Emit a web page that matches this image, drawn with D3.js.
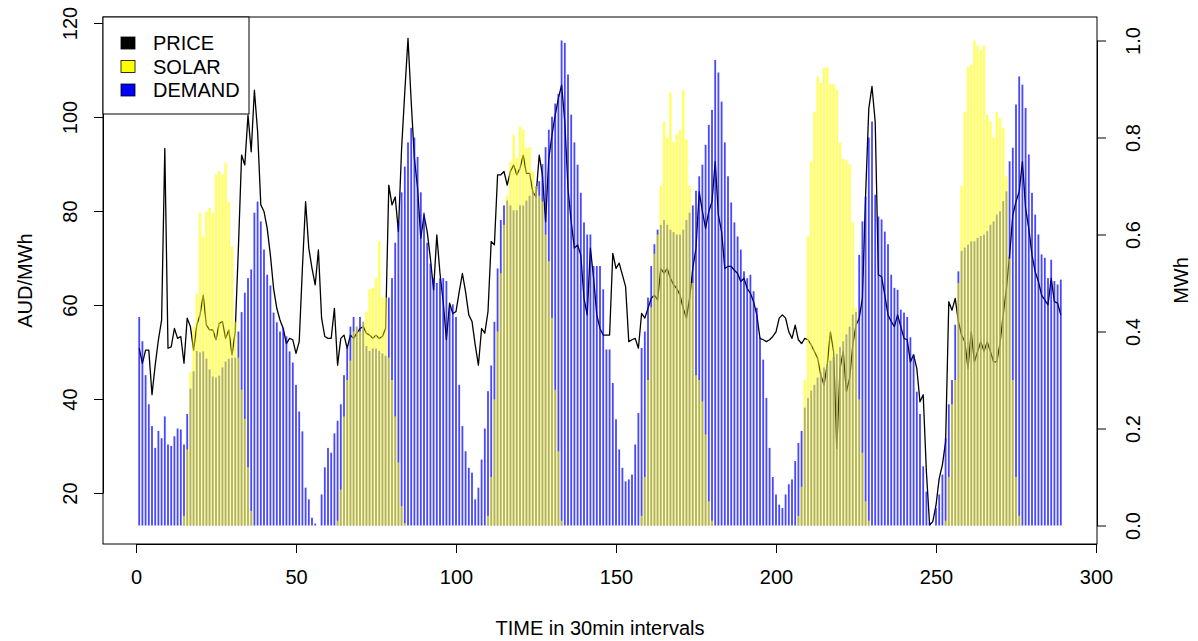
<!DOCTYPE html>
<html>
<head>
<meta charset="utf-8">
<script src="https://cdn.jsdelivr.net/npm/d3@7"></script>
<style>
  body { margin: 0; background: #fff; }
  text { font-family: "Liberation Sans", Arial, Helvetica, sans-serif; }
</style>
</head>
<body>
<svg id="chart" width="1198" height="641"></svg>
<script>
// Half-hourly spot price (AUD/MWh), interval 1..289
const price = [
  50.8, 47.6, 50.4, 50.4, 40.9, 47.2, 52.6, 56.8, 93.3, 50.8, 51.1, 55.0, 52.9, 53.3, 47.6, 57.2,
  55.4, 50.4, 55.7, 57.9, 62.1, 55.7, 54.7, 54.7, 52.6, 56.1, 56.5, 52.9, 54.7, 49.4, 54.3,
  72.1, 91.9, 89.8, 100.4, 92.6, 105.7, 96.9, 81.3, 79.9, 76.3, 70.6, 63.5, 59.3, 56.8, 55.0,
  51.8, 52.9, 52.6, 49.7, 52.2, 67.8, 82.0, 72.1, 67.8, 64.3, 71.7,
  57.2, 53.3, 52.9, 52.9, 59.3, 47.2, 52.9, 53.6, 50.8, 53.6, 52.9, 54.0, 55.0, 55.4, 54.0,
  53.6, 52.9, 53.6, 52.9, 53.3, 55.0,
  85.5, 81.3, 83.0, 75.6, 93.3, 105.4, 116.7, 103.3, 91.2, 84.8, 74.2, 79.1, 75.6, 69.9, 63.2,
  74.9, 66.7, 60.7, 52.6, 60.4, 58.2, 58.6, 62.8, 66.7, 62.8, 57.9, 56.5, 51.5, 47.2, 55.0,
  54.0, 58.6, 73.5, 72.8,
  87.7, 87.7, 88.4, 85.5, 88.4, 89.8, 87.7, 89.1, 91.9, 88.0, 88.0, 84.1, 83.0, 91.9, 87.7,
  77.7, 91.2, 96.2, 100.4, 104.0, 106.8, 99.0, 84.8, 77.7, 72.1, 72.8, 70.6, 61.4, 57.9, 72.1,
  65.7, 57.9,
  55.0, 53.6, 53.6, 53.6, 71.0, 67.8, 68.9, 66.4, 63.9, 52.2, 52.6, 52.9, 50.8, 58.2, 57.2,
  59.3, 61.4, 62.1, 61.1, 67.8, 66.7, 67.8, 65.7, 64.3, 63.5, 62.1, 59.3, 57.2, 61.4, 67.8,
  72.1, 84.1, 79.9, 76.3, 79.9, 82.0, 90.5, 79.1, 75.6, 67.8, 68.2, 68.2, 67.4, 66.7, 65.0,
  65.7, 63.5, 62.5, 60.7, 57.9, 52.9, 52.6, 52.2, 52.6, 53.3, 54.3, 57.2, 57.9, 57.2, 54.3,
  52.9, 55.7, 52.6, 51.8, 52.9, 52.6, 51.5, 50.1, 48.7, 45.1, 43.0, 47.2, 54.3, 50.1, 29.5,
  46.5, 50.1, 41.6, 44.4, 51.5, 55.7, 57.2, 61.4, 83.4, 101.8, 106.5, 99.0, 66.4, 66.0, 62.1,
  57.9, 56.5, 55.4, 57.9, 55.4, 52.9, 52.6, 47.9, 49.4, 46.5, 39.4, 40.9, 24.5, 13.2, 13.9,
  17.4, 23.1, 26.0, 30.9, 60.7, 58.9, 61.4, 56.5, 53.6, 52.2, 46.5, 54.3, 47.9, 50.1, 52.2,
  50.1, 52.2, 50.1, 47.9, 47.9, 51.8, 57.9, 63.5, 70.6, 79.1, 82.0, 84.1, 90.5, 80.6, 76.3,
  70.6, 67.1, 65.0, 62.1, 61.1, 60.0, 65.7, 60.7, 60.4, 57.9
];

// Rooftop solar generation (MWh), interval 1..289
const solar = [
  0, 0, 0, 0, 0, 0, 0, 0, 0, 0, 0, 0, 0, 0,
  0.02, 0.157, 0.317, 0.41, 0.478, 0.645, 0.596, 0.647, 0.655, 0.645, 0.724, 0.73, 0.724,
  0.748, 0.668, 0.575, 0.42, 0.346, 0.28, 0.22, 0.12, 0.03,
  0, 0, 0, 0, 0, 0, 0, 0, 0, 0, 0, 0, 0, 0, 0, 0, 0, 0, 0, 0, 0, 0, 0, 0, 0, 0,
  0.01, 0.074, 0.225, 0.30, 0.34, 0.40, 0.41, 0.40, 0.42, 0.44, 0.487, 0.49, 0.51, 0.586,
  0.47, 0.47, 0.346, 0.30, 0.225, 0.13, 0.04, 0.005,
  0, 0, 0, 0, 0, 0, 0, 0, 0, 0, 0, 0, 0, 0, 0, 0, 0, 0, 0, 0, 0, 0, 0, 0, 0,
  0.02, 0.10, 0.26, 0.40, 0.52, 0.62, 0.68, 0.75, 0.806, 0.758, 0.823, 0.816, 0.779, 0.78,
  0.73, 0.70, 0.68, 0.668, 0.60, 0.545, 0.428, 0.28, 0.153, 0.01,
  0, 0, 0, 0, 0, 0, 0, 0, 0, 0, 0, 0, 0, 0, 0, 0, 0, 0, 0, 0, 0, 0, 0,
  0.0, 0.02, 0.10, 0.30, 0.45, 0.56, 0.60, 0.70, 0.833, 0.80, 0.893, 0.79, 0.806, 0.816,
  0.897, 0.796, 0.70, 0.50, 0.31, 0.30, 0.256, 0.188, 0.05, 0.01,
  0, 0, 0, 0, 0, 0, 0, 0, 0, 0, 0, 0, 0, 0, 0, 0, 0, 0, 0, 0, 0, 0, 0, 0, 0, 0,
  0.02, 0.08, 0.30, 0.596, 0.75, 0.853, 0.926, 0.913, 0.944, 0.945, 0.91, 0.91, 0.899, 0.79,
  0.756, 0.753, 0.745, 0.625, 0.449, 0.26, 0.15, 0.05, 0.01,
  0, 0, 0, 0, 0, 0, 0, 0, 0, 0, 0, 0, 0, 0, 0, 0, 0, 0, 0, 0, 0, 0, 0,
  0.01, 0.10, 0.25, 0.30, 0.50, 0.70, 0.853, 0.946, 0.95, 1.0, 0.99, 0.98, 0.99, 0.847,
  0.833, 0.80, 0.853, 0.84, 0.82, 0.72, 0.55, 0.30, 0.10, 0.02,
  0, 0, 0, 0, 0, 0, 0, 0, 0, 0, 0, 0, 0
];

// Household demand (MWh), interval 1..289
const demand = [
  0.43, 0.38, 0.31, 0.25, 0.205, 0.16, 0.195, 0.18, 0.225, 0.167, 0.164, 0.184, 0.20, 0.198,
  0.167, 0.23,
  0.282, 0.318, 0.36, 0.357, 0.359, 0.344, 0.322, 0.307, 0.305, 0.309, 0.326, 0.338, 0.344,
  0.346, 0.346,
  0.40, 0.44, 0.48, 0.51, 0.528, 0.645, 0.668, 0.627, 0.569, 0.517, 0.495, 0.439, 0.419, 0.40,
  0.408, 0.39,
  0.359, 0.336, 0.29, 0.235, 0.194, 0.078, 0.054, 0.016, 0.004, 0.0,
  0.064, 0.12, 0.16, 0.15, 0.19, 0.216, 0.25, 0.31, 0.367, 0.41,
  0.43, 0.41, 0.43, 0.42, 0.37, 0.36, 0.365, 0.365, 0.36, 0.355, 0.35,
  0.47, 0.51, 0.583, 0.625, 0.687, 0.74, 0.79, 0.82, 0.80, 0.76, 0.687, 0.645, 0.583, 0.54,
  0.51, 0.50, 0.51, 0.51, 0.504, 0.449, 0.456, 0.43,
  0.29, 0.205, 0.153, 0.119, 0.109, 0.054, 0.078, 0.136, 0.20, 0.277, 0.33, 0.42, 0.53, 0.63,
  0.66,
  0.67, 0.66, 0.65, 0.65, 0.66, 0.66, 0.67, 0.68, 0.69, 0.70,
  0.71, 0.745, 0.78, 0.816, 0.843, 0.87, 0.89, 1.0, 0.995, 0.93, 0.847, 0.79, 0.744, 0.686,
  0.625, 0.60,
  0.60, 0.535, 0.535, 0.535, 0.487, 0.363, 0.363, 0.294, 0.219, 0.157, 0.119, 0.091, 0.095,
  0.105, 0.167, 0.232, 0.366,
  0.40, 0.47, 0.535, 0.58, 0.61, 0.62, 0.63, 0.62, 0.61, 0.605, 0.60, 0.60, 0.61, 0.63, 0.645,
  0.66, 0.69, 0.72, 0.744, 0.785, 0.826, 0.857,
  0.96, 0.934, 0.874, 0.79, 0.72, 0.666, 0.625, 0.596, 0.569, 0.524, 0.51, 0.517, 0.483,
  0.449, 0.388, 0.342, 0.263, 0.16, 0.10, 0.064, 0.043, 0.036, 0.064, 0.085, 0.095, 0.133,
  0.17, 0.195,
  0.243, 0.263, 0.278, 0.29, 0.305, 0.316, 0.326, 0.333, 0.34, 0.347, 0.354, 0.368, 0.38,
  0.394, 0.41, 0.435, 0.44,
  0.558, 0.627, 0.678, 0.80, 0.833, 0.682, 0.637, 0.631, 0.606, 0.58, 0.517, 0.49, 0.486,
  0.445, 0.439, 0.43, 0.388, 0.353, 0.276, 0.23, 0.122, 0.07, 0.006,
  0.0, 0.036, 0.064, 0.105, 0.18, 0.25, 0.30, 0.414, 0.524,
  0.566, 0.573, 0.579, 0.586, 0.586, 0.593, 0.597, 0.60, 0.607, 0.62, 0.627, 0.641, 0.648,
  0.669, 0.689, 0.751, 0.779, 0.868, 0.926, 0.909, 0.861, 0.765, 0.686, 0.641, 0.60, 0.559,
  0.552, 0.51, 0.548, 0.504, 0.497, 0.507
];

const xTicks = [0, 50, 100, 150, 200, 250, 300];
const priceTicks = [20, 40, 60, 80, 100, 120];
const mwhTicks = [0, 0.2, 0.4, 0.6, 0.8, 1.0];
const legendLabels = ["PRICE", "SOLAR", "DEMAND"];
const legendColors = ["#000000", "#ffff00", "#0000ff"];

const svg = d3.select("#chart");
const box = { left: 103, right: 1097, top: 17, bottom: 544 };
const FONT = 20;

const x = d3.scaleLinear().domain([0, 300]).range([136, 1096]);
const yPrice = d3.scaleLinear().domain([20, 120]).range([493, 23]);
const yMwh = d3.scaleLinear().domain([0, 1]).range([525.5, 40.5]);

// price line underneath the translucent bars
const line = d3.line().x((d, i) => x(i + 1)).y(d => yPrice(d));
svg.append("path")
  .datum(price)
  .attr("d", line)
  .attr("fill", "none")
  .attr("stroke", "#000")
  .attr("stroke-width", 1.3)
  .attr("stroke-linejoin", "round");

// demand bars
svg.append("g").selectAll("rect")
  .data(demand)
  .join("rect")
  .attr("x", (d, i) => x(i + 1) - 0.9)
  .attr("width", 1.8)
  .attr("y", d => yMwh(d))
  .attr("height", d => yMwh(0) - yMwh(d))
  .attr("fill", "#0000ff")
  .attr("fill-opacity", 0.72);

// solar bars on top
svg.append("g").selectAll("rect")
  .data(solar)
  .join("rect")
  .attr("x", (d, i) => x(i + 1) - 1.3)
  .attr("width", 2.6)
  .attr("y", d => yMwh(d))
  .attr("height", d => yMwh(0) - yMwh(d))
  .attr("fill", "#ffff00")
  .attr("fill-opacity", 0.58);

// plot frame
svg.append("rect")
  .attr("x", box.left).attr("y", box.top)
  .attr("width", box.right - box.left).attr("height", box.bottom - box.top)
  .attr("fill", "none").attr("stroke", "#000").attr("stroke-width", 1);

function styleAxis(g) {
  g.selectAll("path.domain").attr("stroke", "#000").attr("stroke-width", 1);
  g.selectAll(".tick line").attr("stroke", "#000").attr("stroke-width", 1);
  g.selectAll("text").attr("font-size", FONT).attr("fill", "#000")
    .style("font-family", '"Liberation Sans", Arial, sans-serif');
}

// bottom axis
const gx = svg.append("g")
  .attr("transform", `translate(0,${box.bottom})`)
  .call(d3.axisBottom(x).tickValues(xTicks).tickSize(9).tickSizeOuter(0).tickFormat(d3.format("d")));
styleAxis(gx);
gx.selectAll("text").attr("y", 40).attr("dy", null);

// left axis (price)
const gl = svg.append("g")
  .attr("transform", `translate(${box.left},0)`)
  .call(d3.axisLeft(yPrice).tickValues(priceTicks).tickSize(9).tickSizeOuter(0).tickFormat(d3.format("d")));
styleAxis(gl);
gl.selectAll("text")
  .attr("x", null).attr("dy", null)
  .attr("text-anchor", "middle")
  .attr("transform", "translate(-26,0) rotate(-90)");

// right axis (energy)
const gr = svg.append("g")
  .attr("transform", `translate(${box.right},0)`)
  .call(d3.axisRight(yMwh).tickValues(mwhTicks).tickSize(9).tickSizeOuter(0).tickFormat(d3.format(".1f")));
styleAxis(gr);
gr.selectAll("text")
  .attr("x", null).attr("dy", null)
  .attr("text-anchor", "middle")
  .attr("transform", "translate(43,0) rotate(-90)");

// axis titles
svg.append("text")
  .attr("x", (box.left + box.right) / 2).attr("y", 635)
  .attr("text-anchor", "middle").attr("font-size", FONT)
  .text("TIME in 30min intervals");
svg.append("text")
  .attr("transform", `translate(32,${(box.top + box.bottom) / 2}) rotate(-90)`)
  .attr("text-anchor", "middle").attr("font-size", FONT)
  .text("AUD/MWh");
svg.append("text")
  .attr("transform", `translate(1188,${(box.top + box.bottom) / 2}) rotate(-90)`)
  .attr("text-anchor", "middle").attr("font-size", FONT)
  .text("MWh");

// legend
const lg = svg.append("g");
lg.append("rect")
  .attr("x", box.left).attr("y", box.top)
  .attr("width", 146).attr("height", 97)
  .attr("fill", "#fff").attr("stroke", "#000").attr("stroke-width", 1);
const rowY = d3.scalePoint().domain(legendLabels).range([43, 90]);
lg.selectAll("rect.key")
  .data(legendLabels)
  .join("rect")
  .attr("class", "key")
  .attr("x", 121).attr("y", d => rowY(d) - 6)
  .attr("width", 14).attr("height", 12)
  .attr("fill", (d, i) => legendColors[i])
  .attr("stroke", "#000").attr("stroke-width", 0.8);
lg.selectAll("text")
  .data(legendLabels)
  .join("text")
  .attr("x", 153).attr("y", d => rowY(d) + 7)
  .attr("font-size", FONT)
  .text(d => d);
</script>
</body>
</html>
